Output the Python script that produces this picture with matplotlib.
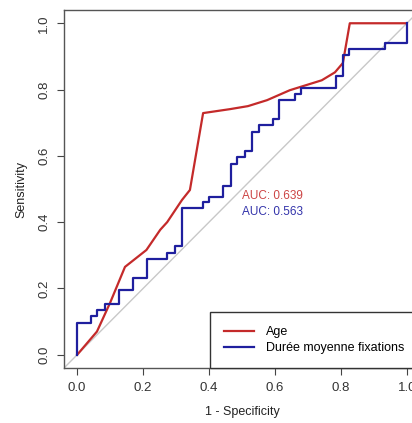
import matplotlib.pyplot as plt

plt.rcParams['font.family'] = ['Liberation Sans', 'DejaVu Sans']

# ---------------------------
# data
# ---------------------------
age_fpr = [0.0, 0.06, 0.10, 0.145, 0.21, 0.252, 0.273, 0.318, 0.342, 0.382,
           0.464, 0.518, 0.576, 0.645, 0.742, 0.782, 0.806, 0.827, 1.0]
age_tpr = [0.0, 0.07, 0.157, 0.265, 0.316, 0.377, 0.40, 0.467, 0.497, 0.729,
           0.741, 0.75, 0.768, 0.798, 0.828, 0.852, 0.88, 1.0, 1.0]

duree_fpr = [0.0, 0.0, 0.042, 0.061, 0.085, 0.127, 0.17, 0.212, 0.273, 0.297,
             0.318, 0.382, 0.40, 0.442, 0.467, 0.485, 0.509, 0.53, 0.552, 0.594,
             0.613, 0.661, 0.679, 0.785, 0.806, 0.824, 0.933, 1.0]
duree_tpr = [0.0, 0.096, 0.117, 0.136, 0.154, 0.196, 0.232, 0.289, 0.307, 0.328,
             0.443, 0.461, 0.476, 0.509, 0.575, 0.596, 0.614, 0.672, 0.693, 0.711,
             0.768, 0.786, 0.804, 0.84, 0.904, 0.922, 0.94, 1.0]

auc_age = 0.639
auc_duree = 0.563

ticks = [0.0, 0.2, 0.4, 0.6, 0.8, 1.0]
tick_labels = ['0.0', '0.2', '0.4', '0.6', '0.8', '1.0']

red = '#c42a2a'
blue = '#1f1f9e'

fig = plt.figure(figsize=(4.12, 4.23), dpi=100)
ax = fig.add_axes([64 / 412, 55 / 423, 356 / 412, 358 / 423])

ax.axline((0, 0), (1, 1), color='#c8c8c8', lw=1)
ax.plot(age_fpr, age_tpr, color=red, lw=1.6, label='Age')
ax.step(duree_fpr, duree_tpr, where='post', color=blue, lw=1.6,
        label='Durée moyenne fixations')

ax.text(0.5, 0.48, f'AUC: {auc_age:.3f}', color='#cc4444', fontsize=8.5,
        ha='left', va='center')
ax.text(0.5, 0.43, f'AUC: {auc_duree:.3f}', color='#3333aa', fontsize=8.5,
        ha='left', va='center')

ax.set_xlim(-0.04, 1.04)
ax.set_ylim(-0.04, 1.04)
ax.set_xticks(ticks)
ax.set_xticklabels(tick_labels)
ax.set_yticks(ticks)
ax.set_yticklabels(tick_labels, rotation=90, va='center')
ax.tick_params(length=5, width=0.8, colors='#444444', labelsize=9.5,
               labelcolor='#333333', pad=5)
for sp in ax.spines.values():
    sp.set_color('#555555')
    sp.set_linewidth(1)

ax.set_xlabel('1 - Specificity', fontsize=9, color='#222222', labelpad=9)
ax.set_ylabel('Sensitivity', fontsize=9, color='#222222', labelpad=8)

# legend box runs past the right edge, as in the original
leg = ax.legend(loc='lower right', bbox_to_anchor=((418 - 64) / 356, 0),
                borderaxespad=0, fancybox=False, edgecolor='#333333',
                fontsize=9, handlelength=2.4, handletextpad=0.95,
                borderpad=1.1, labelspacing=0.35, framealpha=1)
leg.get_frame().set_linewidth(1)

fig.savefig('out.png', dpi=100)
